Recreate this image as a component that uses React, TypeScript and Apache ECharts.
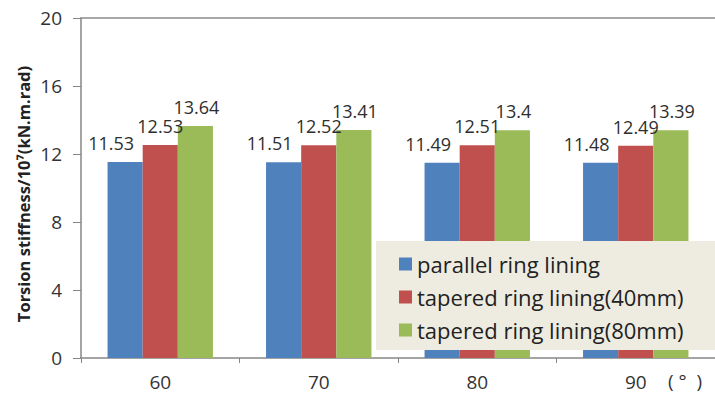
import React, { useEffect, useRef } from "react";
import * as echarts from "echarts";

// Angle categories (degrees)
const categories = ["60", "70", "80", "90"];

// Torsion stiffness, ×10^7 kN·m/rad
const parallelRing = [11.53, 11.51, 11.49, 11.48];
const tapered40 = [12.53, 12.52, 12.51, 12.49];
const tapered80 = [13.64, 13.41, 13.4, 13.39];

const seriesNames = [
  "parallel ring lining",
  "tapered ring lining(40mm)",
  "tapered ring lining(80mm)",
];
const seriesColors = ["#4f81bd", "#c0504d", "#9bbb59"];

const yMin = 0;
const yMax = 20;
const yStep = 4;

const FONT = "'Open Sans', 'Noto Sans', sans-serif";

export default function App() {
  const ref = useRef<HTMLDivElement>(null);

  useEffect(() => {
    document.body.style.margin = "0";
    if (!ref.current) return;
    const chart = echarts.init(ref.current, undefined, { renderer: "svg" });

    const labelBase = {
      show: true,
      position: "top" as const,
      distance: 10,
      fontFamily: FONT,
      fontSize: 18,
      color: "#2e2e2e",
    };

    const makeSeries = (name: string, data: number[], color: string, dx: number) => ({
      name,
      type: "bar" as const,
      data,
      barGap: "0%",
      barCategoryGap: "33.5%",
      itemStyle: { color },
      label: { ...labelBase, offset: [dx, 0] },
    });

    chart.setOption({
      animation: false,
      backgroundColor: "#ffffff",
      textStyle: { fontFamily: FONT },
      grid: { left: 81, top: 18, width: 644, height: 340, containLabel: false },
      legend: {
        orient: "vertical",
        left: 376,
        top: 241,
        padding: [12, 120, 9, 23],
        backgroundColor: "#eeece1",
        itemWidth: 13,
        itemHeight: 13,
        itemGap: 11,
        icon: "rect",
        textStyle: { fontFamily: FONT, fontSize: 22, color: "#222222", lineHeight: 22 },
        data: seriesNames,
      },
      xAxis: [
        {
          type: "category",
          data: categories,
          position: "bottom",
          axisLine: { show: true, lineStyle: { color: "#868686", width: 1.5 } },
          axisTick: { show: true, length: 5, lineStyle: { color: "#868686" } },
          axisLabel: { fontFamily: FONT, fontSize: 19, color: "#333333", margin: 14 },
        },
        {
          type: "category",
          data: categories,
          position: "top",
          axisLine: { show: true, lineStyle: { color: "#8c8c8c", width: 1.5 } },
          axisTick: { show: false },
          axisLabel: { show: false },
        },
      ],
      yAxis: {
        type: "value",
        min: yMin,
        max: yMax,
        interval: yStep,
        axisLine: { show: true, lineStyle: { color: "#868686", width: 1.5 } },
        axisTick: { show: true, length: 8, lineStyle: { color: "#868686" } },
        splitLine: { show: false },
        axisLabel: { fontFamily: FONT, fontSize: 19, color: "#333333", margin: 19 },
      },
      graphic: [
        {
          type: "text",
          x: 23,
          y: 194,
          rotation: Math.PI / 2,
          style: {
            text: "Torsion stiffness/10⁷(kN.m.rad)",
            fontFamily: FONT,
            fontSize: 16.5,
            fontWeight: "bold",
            fill: "#222222",
            align: "center",
            verticalAlign: "middle",
          },
        },
        {
          type: "text",
          left: 668,
          top: 371,
          style: { text: "( °  )", fontFamily: FONT, fontSize: 19, fill: "#333333" },
        },
      ],
      series: [
        makeSeries(seriesNames[0], parallelRing, seriesColors[0], -14),
        makeSeries(seriesNames[1], tapered40, seriesColors[1], 0),
        makeSeries(seriesNames[2], tapered80, seriesColors[2], 1),
      ],
    });

    return () => chart.dispose();
  }, []);

  return <div ref={ref} style={{ width: 715, height: 397 }} />;
}
